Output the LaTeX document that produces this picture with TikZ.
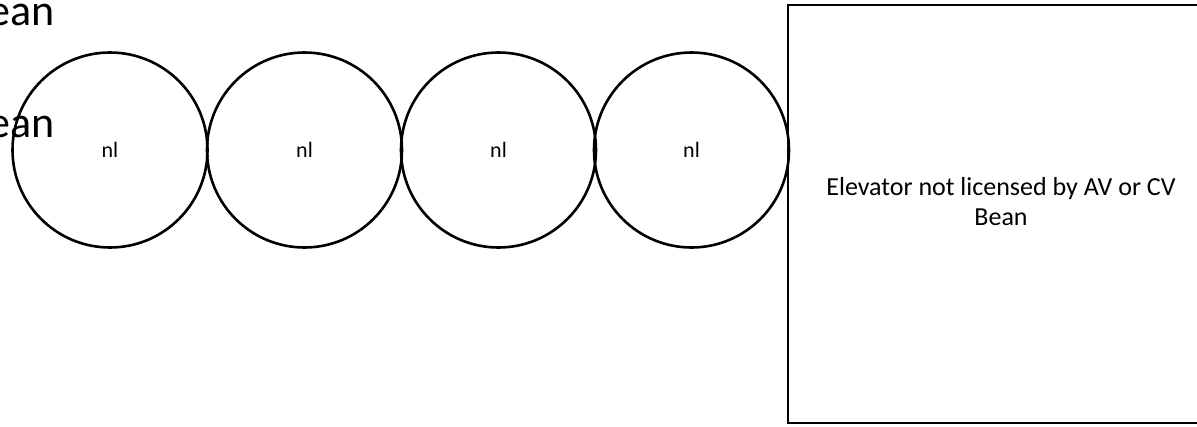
\documentclass[tikz,border=0pt]{standalone}
\usepackage{fontspec}
\setmainfont{Carlito}
\usetikzlibrary{positioning}

\begin{document}
\begin{tikzpicture}[x=1pt,y=-1pt,
  bead/.style={draw,circle,line width=2.6pt,minimum size=195pt,inner sep=0pt,font=\fontsize{22}{26}\selectfont},
  elevbox/.style={draw,rectangle,line width=2.6pt,minimum width=427pt,minimum height=418pt,inner sep=0pt},
  bigword/.style={font=\fontsize{44}{50}\selectfont,inner sep=0pt,anchor=base east}]
  \useasboundingbox (0,0) rectangle (1197,426);
  \clip (0,0) rectangle (1197,426);
  \node[bigword] (top) at (55,25) {Bean};
  \node[bigword] (mid) at (55,137) {Bean};
  \node[bead] (c1) at (110,150) {nl};
  \node[bead] (c2) at (304.5,150) {nl};
  \node[bead] (c3) at (498.5,150) {nl};
  \node[bead] (c4) at (691.5,150) {nl};
  \node[elevbox] (elev) at (1001.5,214) {};
  \node[font=\fontsize{26}{30}\selectfont,align=center,anchor=base] (elevtext) at (1001,225) {Elevator not licensed by AV or CV\\Bean};
\end{tikzpicture}
\end{document}
